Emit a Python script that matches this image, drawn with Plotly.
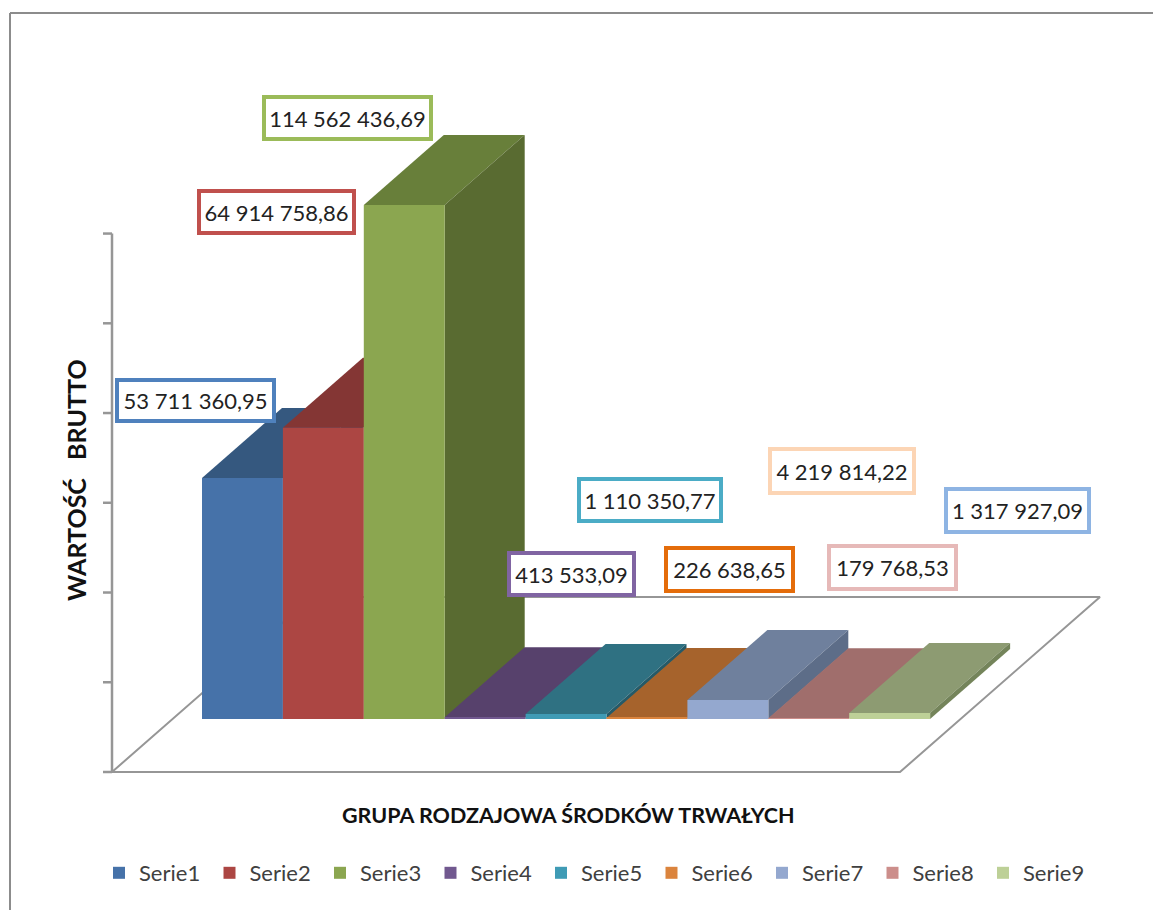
import plotly.graph_objects as go

W, H = 1161, 910
PAGE_MARGIN = 8  # the page puts the figure 8px in from the top left corner
FIG_W, FIG_H = W - PAGE_MARGIN, H - PAGE_MARGIN

SERIES = ["Serie1", "Serie2", "Serie3", "Serie4", "Serie5", "Serie6", "Serie7", "Serie8", "Serie9"]
VALUES = [53711360.95, 64914758.86, 114562436.69, 413533.09, 1110350.77,
          226638.65, 4219814.22, 179768.53, 1317927.09]
VALUE_LABELS = ["53 711 360,95", "64 914 758,86", "114 562 436,69", "413 533,09", "1 110 350,77",
                "226 638,65", "4 219 814,22", "179 768,53", "1 317 927,09"]
AXIS_TICKS = [0, 20e6, 40e6, 60e6, 80e6, 100e6, 120e6]

FRONT = ["#4672A9", "#AC4643", "#8BA650", "#71588F", "#3F9BB5", "#DB843D", "#94A8CF", "#CC8E8B", "#BDD097"]
TOP = ["#35587F", "#843634", "#687F3A", "#57416C", "#2F7182", "#A6632C", "#6F809D", "#A06E6C", "#8D9B72"]
SIDE = ["#2C4A6B", "#6F2D2B", "#596B31", "#49375B", "#255A68", "#8B5325", "#5D6D88", "#87605D", "#74845A"]
BORDER = ["#4F81BD", "#C0504D", "#9BBB59", "#8064A2", "#4BACC6", "#E46C0A", "#FCD5B5", "#E6B9B8", "#8EB4E3"]

# label boxes: left, top, right, bottom in page pixels
BOXES = [(115, 378, 276, 423), (197, 189, 356, 235), (262, 95, 433, 141),
         (507, 551, 636, 597), (577, 477, 723, 523), (664, 546, 795, 593),
         (768, 447, 916, 495), (827, 544, 958, 591), (944, 487, 1091, 534)]

GREY = "#969696"
FONT = "Lato"

# page <-> data scales: one category is one bar wide, y is in zloty
BAR_PX = 80.9
PX_PER_VALUE = 4.487e-6
LEFT_PX, BASE_PX = 202, 719


def to_x(px):
    return (px - LEFT_PX) / BAR_PX


def to_y(py):
    return (BASE_PX - py) / PX_PER_VALUE


def paper_x(px):
    return (px - PAGE_MARGIN) / FIG_W


def paper_y(py):
    return 1 - (py - PAGE_MARGIN) / FIG_H


DEPTH_X = 80 / BAR_PX
DEPTH_Y = 70 / PX_PER_VALUE
X_RANGE = [to_x(PAGE_MARGIN), to_x(PAGE_MARGIN + FIG_W)]
Y_RANGE = [to_y(PAGE_MARGIN + FIG_H), to_y(PAGE_MARGIN)]

fig = go.Figure()

# floor
floor_x = [to_x(p) for p in (112, 900, 1100, 312, 112)]
floor_y = [to_y(p) for p in (772, 772, 597, 597, 772)]
fig.add_trace(go.Scatter(x=floor_x, y=floor_y, mode="lines", line=dict(color=GREY, width=2),
                         showlegend=False, hoverinfo="skip"))

# value axis: it stands on the front edge of the floor
axis_x = [to_x(112), to_x(112), None]
axis_y = [to_y(772), to_y(772) + AXIS_TICKS[-1], None]
for t in AXIS_TICKS:
    axis_x += [to_x(103), to_x(112), None]
    axis_y += [to_y(772) + t, to_y(772) + t, None]
fig.add_trace(go.Scatter(x=axis_x, y=axis_y, mode="lines", line=dict(color=GREY, width=2.5),
                         showlegend=False, hoverinfo="skip"))

# top and side faces go below, the front faces are real bars on the overlay axes
for i, v in enumerate(VALUES):
    fig.add_trace(go.Scatter(
        x=[i, i + 1, i + 1 + DEPTH_X, i + DEPTH_X, i],
        y=[v, v, v + DEPTH_Y, v + DEPTH_Y, v],
        mode="lines", fill="toself", fillcolor=TOP[i], line=dict(width=0),
        showlegend=False, hoverinfo="skip"))
    fig.add_trace(go.Scatter(
        x=[i + 1, i + 1 + DEPTH_X, i + 1 + DEPTH_X, i + 1, i + 1],
        y=[0, DEPTH_Y, v + DEPTH_Y, v, 0],
        mode="lines", fill="toself", fillcolor=SIDE[i], line=dict(width=0),
        showlegend=False, hoverinfo="skip"))

for i, (name, v) in enumerate(zip(SERIES, VALUES)):
    fig.add_trace(go.Bar(x=[i + 0.5], y=[v], width=[1], name=name, marker_color=FRONT[i],
                         marker_line_width=0, xaxis="x2", yaxis="y2"))

annotations = []
for text, color, (x0, y0, x1, y1) in zip(VALUE_LABELS, BORDER, BOXES):
    annotations.append(dict(
        text=text, xref="paper", yref="paper", showarrow=False,
        x=paper_x((x0 + x1) / 2), y=paper_y((y0 + y1) / 2), xanchor="center", yanchor="middle",
        width=x1 - x0 - 8, height=y1 - y0 - 8, bgcolor="white", bordercolor=color, borderwidth=4,
        borderpad=0, font=dict(family=FONT, size=22, color="#222222"),
    ))
annotations.append(dict(
    text="<b>GRUPA RODZAJOWA ŚRODKÓW TRWAŁYCH</b>", xref="paper", yref="paper", showarrow=False,
    x=paper_x(568), y=paper_y(815), xanchor="center", yanchor="middle",
    font=dict(family=FONT, size=21.5, color="#111111"),
))
annotations.append(dict(
    text="<b>WARTOŚĆ   BRUTTO</b>", xref="paper", yref="paper", showarrow=False, textangle=-90,
    x=paper_x(76), y=paper_y(480), xanchor="center", yanchor="middle",
    font=dict(family=FONT, size=25, color="#111111"),
))

hidden = dict(visible=False, fixedrange=True)
fig.update_layout(
    width=FIG_W, height=FIG_H, margin=dict(l=0, r=0, t=0, b=0, pad=0),
    paper_bgcolor="white", plot_bgcolor="white", barmode="overlay",
    xaxis=dict(range=X_RANGE, **hidden),
    yaxis=dict(range=Y_RANGE, **hidden),
    xaxis2=dict(range=X_RANGE, overlaying="x", **hidden),
    yaxis2=dict(range=Y_RANGE, overlaying="y", **hidden),
    annotations=annotations,
    shapes=[
        dict(type="line", xref="paper", yref="paper", x0=paper_x(10), x1=paper_x(10), y0=0, y1=paper_y(13),
             line=dict(color="#8C8C8C", width=2)),
        dict(type="line", xref="paper", yref="paper", x0=paper_x(10), x1=1, y0=paper_y(13), y1=paper_y(13),
             line=dict(color="#8C8C8C", width=2)),
    ],
    legend=dict(orientation="h", x=paper_x(99), y=paper_y(873), xanchor="left", yanchor="middle",
                entrywidth=65.5, entrywidthmode="pixels", traceorder="normal",
                font=dict(family=FONT, size=22, color="#404040"), bgcolor="rgba(0,0,0,0)"),
)

fig.write_html("out.html")
